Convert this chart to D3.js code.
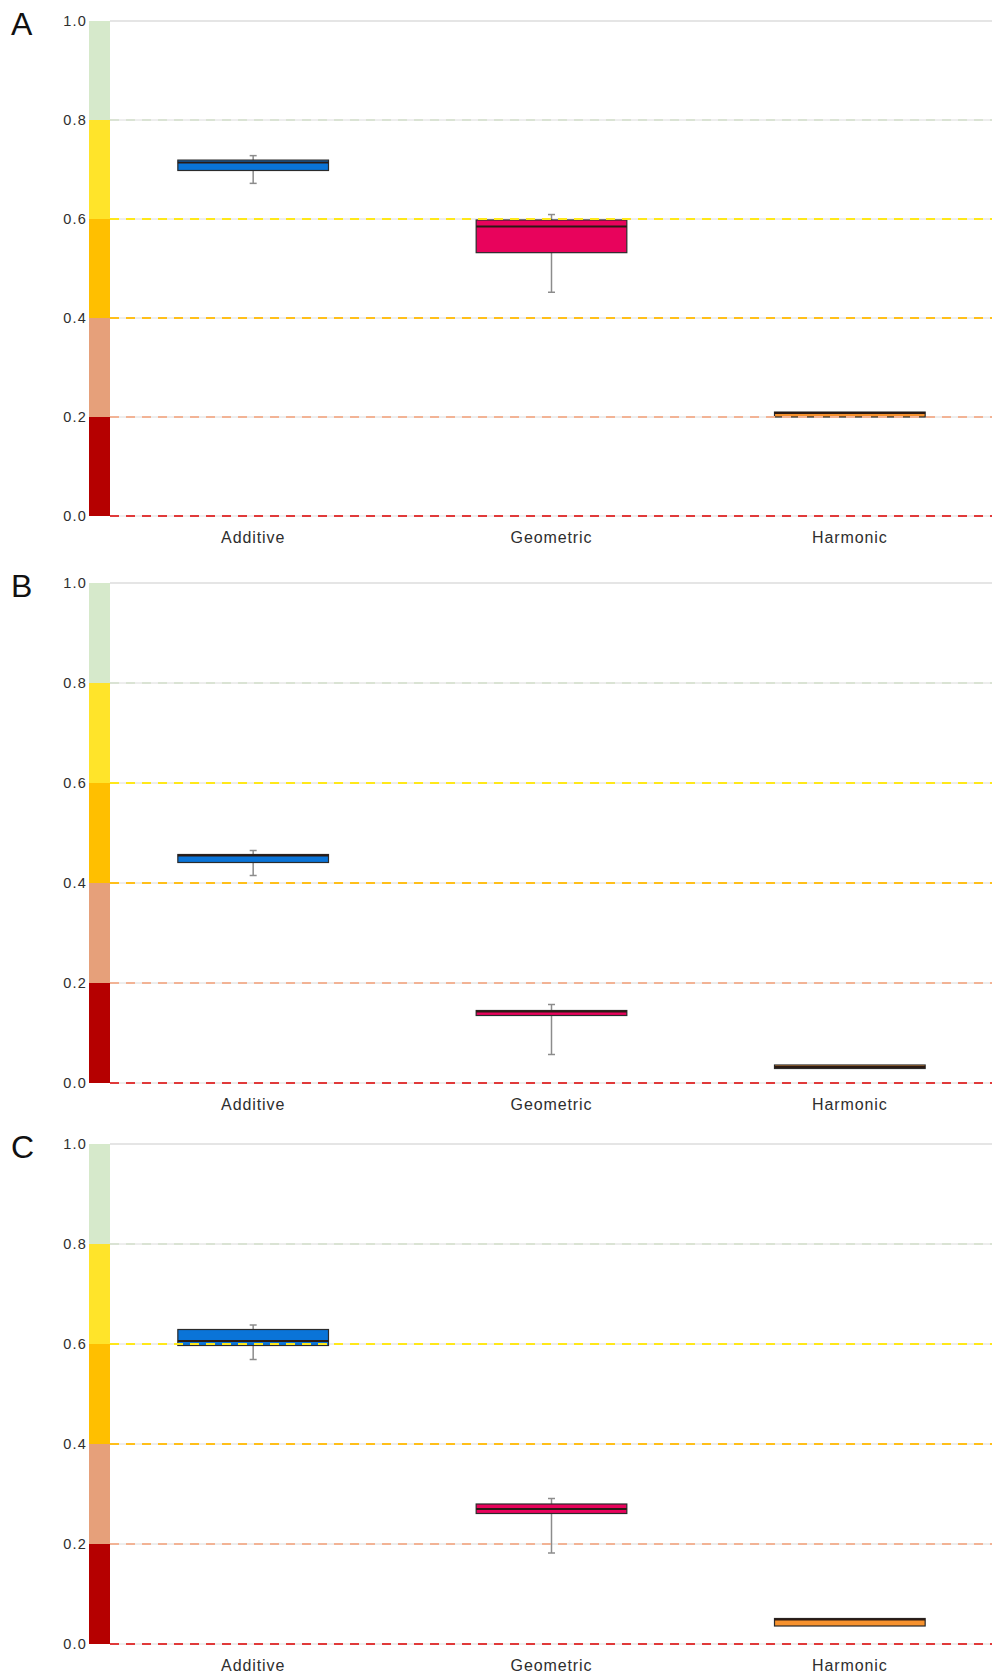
<!DOCTYPE html>
<html>
<head>
<meta charset="utf-8">
<script src="https://cdn.jsdelivr.net/npm/d3@7"></script>
<style>
  html, body { margin: 0; padding: 0; background: #ffffff; }
  svg { display: block; }
  text { font-family: "Liberation Sans", Arial, Helvetica, sans-serif; }
</style>
</head>
<body>
<svg id="chart" width="992" height="1677"></svg>
<script>
// Categories along the x axis of every panel
const categories = ["Additive", "Geometric", "Harmonic"];
const panelLabels = ["A", "B", "C"];

// Box statistics per category: [min, q1, median, q3, max]
const statsA = [
  [0.672, 0.698, 0.714, 0.719, 0.728],
  [0.452, 0.532, 0.585, 0.598, 0.609],
  [0.200, 0.200, 0.208, 0.210, 0.210]
];
const statsB = [
  [0.415, 0.441, 0.455, 0.457, 0.465],
  [0.057, 0.135, 0.143, 0.145, 0.157],
  [0.029, 0.029, 0.032, 0.036, 0.036]
];
const statsC = [
  [0.569, 0.597, 0.606, 0.629, 0.638],
  [0.182, 0.261, 0.270, 0.280, 0.291],
  [0.036, 0.036, 0.049, 0.051, 0.051]
];
const panelStats = [statsA, statsB, statsC];

// Colour bands on the left axis and the matching threshold lines
const bandEdges = [0, 0.2, 0.4, 0.6, 0.8, 1.0];
const bandColors = ["#b50000", "#e6a07a", "#ffbf00", "#ffe42a", "#d6e9cb"];
const thresholdValues = [0, 0.2, 0.4, 0.6, 0.8];
const thresholdColors = ["#e03a3a", "#f2b395", "#ffbf1a", "#ffe81a", "#d4e0cc"];
const yTicks = [0, 0.2, 0.4, 0.6, 0.8, 1.0];

// Box fill per category
const boxColors = ["#0a74d8", "#e8035c", "#f7922e"];

const svg = d3.select("#chart");

// Pixel extents of each panel's value axis [bottom, top]
const panelRanges = [[516, 21], [1083, 583], [1644, 1144]];

const x = d3.scaleBand().domain(categories).range([104, 999]);
const boxW = x.bandwidth() * 0.505;
const barX0 = 89, barX1 = 110, lineX1 = 992;

panelLabels.forEach((lab, pi) => {
  const g = svg.append("g");
  const y = d3.scaleLinear().domain([0, 1]).range(panelRanges[pi]);

  // panel letter
  g.append("text")
    .attr("x", 11).attr("y", y(1) + 14)
    .attr("font-size", 32).attr("fill", "#111")
    .text(lab);

  // colour bar
  g.selectAll("rect.band")
    .data(d3.range(bandColors.length))
    .join("rect")
    .attr("x", barX0).attr("width", barX1 - barX0)
    .attr("y", i => y(bandEdges[i + 1]))
    .attr("height", i => y(bandEdges[i]) - y(bandEdges[i + 1]))
    .attr("fill", i => bandColors[i]);

  // faint solid grid under the dashes
  g.selectAll("line.grid")
    .data(yTicks)
    .join("line")
    .attr("x1", barX1).attr("x2", lineX1)
    .attr("y1", d => y(d)).attr("y2", d => y(d))
    .attr("stroke", "#dcdcdc").attr("stroke-width", d => d === 1 ? 1.5 : 1);

  // y axis tick labels
  const axis = d3.axisLeft(y).tickValues(yTicks).tickFormat(d3.format(".1f")).tickSize(0).tickPadding(0);
  const ax = g.append("g").attr("transform", `translate(${barX0 - 2},0)`).call(axis);
  ax.select(".domain").remove();
  ax.selectAll("text")
    .attr("font-size", 14.5).attr("fill", "#2e2e2e")
    .attr("letter-spacing", 1.2)
    .attr("font-family", "'Liberation Sans', Arial, sans-serif");

  // boxes
  const stats = panelStats[pi];
  const boxes = g.selectAll("g.box")
    .data(categories.map((c, i) => ({ c, i, s: stats[i] })))
    .join("g");

  boxes.append("line")
    .attr("x1", d => x(d.c) + x.bandwidth() / 2)
    .attr("x2", d => x(d.c) + x.bandwidth() / 2)
    .attr("y1", d => y(d.s[0])).attr("y2", d => y(d.s[4]))
    .attr("stroke", "#8c8c8c").attr("stroke-width", 1.5);
  [0, 4].forEach(k => {
    boxes.filter(d => d.s[k] !== d.s[k === 0 ? 1 : 3]).append("line")
      .attr("x1", d => x(d.c) + x.bandwidth() / 2 - 3.5)
      .attr("x2", d => x(d.c) + x.bandwidth() / 2 + 3.5)
      .attr("y1", d => y(d.s[k])).attr("y2", d => y(d.s[k]))
      .attr("stroke", "#8c8c8c").attr("stroke-width", 1.5);
  });

  boxes.append("rect")
    .attr("x", d => x(d.c) + (x.bandwidth() - boxW) / 2)
    .attr("width", boxW)
    .attr("y", d => y(d.s[3]))
    .attr("height", d => Math.max(1, y(d.s[1]) - y(d.s[3])))
    .attr("fill", d => boxColors[d.i])
    .attr("stroke", "#2b2b2b").attr("stroke-width", 1.2);

  boxes.append("line")
    .attr("x1", d => x(d.c) + (x.bandwidth() - boxW) / 2)
    .attr("x2", d => x(d.c) + (x.bandwidth() + boxW) / 2)
    .attr("y1", d => y(d.s[2])).attr("y2", d => y(d.s[2]))
    .attr("stroke", "#2a1a14").attr("stroke-width", 2);

  // dashed threshold lines
  g.selectAll("line.thr")
    .data(thresholdValues.map((v, i) => ({ v, c: thresholdColors[i] })))
    .join("line")
    .attr("x1", barX1).attr("x2", lineX1)
    .attr("y1", d => y(d.v)).attr("y2", d => y(d.v))
    .attr("stroke", d => d.c)
    .attr("stroke-width", d => d.v === 0.8 ? 1.6 : 2)
    .attr("stroke-dasharray", "9,7");

  // category labels
  g.selectAll("text.cat")
    .data(categories)
    .join("text")
    .attr("x", d => x(d) + x.bandwidth() / 2)
    .attr("y", y(0) + 27)
    .attr("text-anchor", "middle")
    .attr("font-size", 16).attr("letter-spacing", 0.9)
    .attr("fill", "#2e2e2e")
    .text(d => d);
});
</script>
</body>
</html>
